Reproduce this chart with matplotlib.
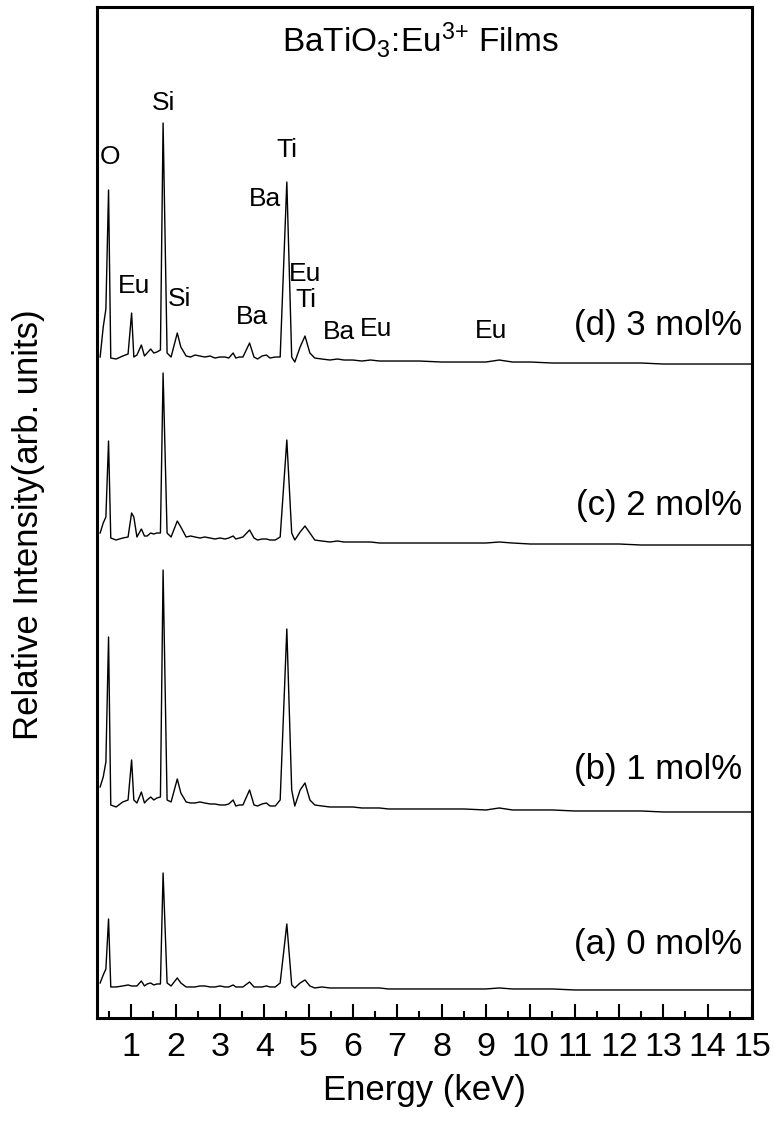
import matplotlib
matplotlib.use("Agg")
import matplotlib.pyplot as plt
from matplotlib.ticker import MultipleLocator

plt.rcParams['font.family'] = ['Liberation Sans', 'DejaVu Sans']
plt.rcParams['mathtext.fontset'] = 'custom'
plt.rcParams['mathtext.rm'] = 'Liberation Sans'
plt.rcParams['mathtext.default'] = 'regular'

# energy grid (keV) shared by the four spectra
energy = [0.30, 0.37, 0.43, 0.49, 0.54, 0.66, 0.81, 0.93, 1.01, 1.06,
          1.13, 1.23, 1.30, 1.36, 1.44, 1.51, 1.58, 1.66, 1.72, 1.81,
          1.90, 2.04, 2.12, 2.24, 2.34, 2.44, 2.55, 2.66, 2.78, 2.89,
          3.00, 3.12, 3.20, 3.30, 3.36, 3.44, 3.52, 3.67, 3.77, 3.85,
          3.95, 4.05, 4.13, 4.25, 4.36, 4.51, 4.62, 4.69, 4.81, 4.92,
          5.03, 5.14, 5.30, 5.48, 5.65, 5.80, 6.00, 6.20, 6.40, 6.60,
          6.80, 7.00, 7.50, 8.00, 8.50, 9.00, 9.30, 9.60, 10.0, 10.5,
          11.0, 11.5, 12.0, 12.5, 13.0, 13.5, 14.0, 14.5, 15.0]

# intensities (arb. units)
int_a = [7, 15, 21, 71, 3, 3, 4, 5, 4, 4,
         4, 9, 4, 6, 7, 5, 6, 6, 117, 7,
         4, 12, 7, 3, 3, 3, 4, 4, 3, 3,
         4, 3, 3, 5, 3, 3, 3, 8, 3, 3,
         3, 4, 3, 3, 7, 66, 5, 2, 7, 10,
         4, 2, 3, 2, 2, 2, 2, 2, 2, 2,
         1, 1, 1, 1, 1, 1, 2, 1, 1, 1,
         0, 0, 0, 0, 0, 0, 0, 0, 0]
int_b = [25, 35, 50, 175, 7, 5, 10, 12, 52, 12,
         9, 20, 9, 12, 15, 12, 14, 15, 242, 12,
         10, 33, 19, 10, 9, 9, 10, 9, 8, 8,
         7, 7, 8, 12, 6, 7, 7, 22, 7, 6,
         8, 9, 6, 6, 12, 183, 22, 6, 22, 29,
         12, 7, 6, 5, 5, 5, 5, 4, 4, 4,
         3, 3, 3, 3, 3, 2, 4, 2, 2, 2,
         1, 1, 1, 1, 0, 0, 0, 0, 0]
int_c = [12, 22, 28, 104, 7, 5, 7, 8, 32, 28,
         8, 16, 9, 9, 12, 11, 12, 12, 172, 12,
         8, 24, 18, 8, 9, 8, 7, 8, 7, 6,
         7, 6, 7, 9, 6, 7, 8, 15, 7, 5,
         6, 6, 5, 5, 8, 105, 12, 5, 13, 19,
         12, 5, 4, 3, 4, 3, 3, 3, 3, 2,
         2, 2, 2, 2, 2, 2, 3, 2, 1, 1,
         1, 1, 1, 0, 0, 0, 0, 0, 0]
int_d = [7, 37, 55, 174, 6, 5, 8, 10, 51, 7,
         9, 19, 8, 11, 15, 11, 12, 14, 241, 11,
         7, 31, 17, 8, 7, 9, 8, 7, 8, 6,
         7, 7, 6, 11, 6, 7, 7, 21, 7, 5,
         8, 9, 6, 7, 7, 182, 7, 2, 17, 28,
         11, 6, 5, 4, 5, 4, 4, 3, 4, 3,
         3, 3, 3, 2, 2, 2, 4, 2, 2, 1,
         1, 1, 1, 1, 0, 0, 0, 0, 0]

spectra = [int_a, int_b, int_c, int_d]
sample_labels = ['(a) 0 mol%', '(b) 1 mol%', '(c) 2 mol%', '(d) 3 mol%']
offsets = [28, 206, 473, 654]
label_y = [73, 248, 513, 693]

# element labels on the top spectrum
peak_names = ['O', 'Si', 'Ti', 'Ba', 'Eu', 'Si', 'Ba', 'Eu', 'Ti', 'Ba', 'Eu', 'Eu']
peak_x = [0.52, 1.72, 4.51, 4.02, 1.06, 2.10, 3.72, 4.92, 4.94, 5.69, 6.52, 9.11]
peak_y = [861, 915, 868, 819, 732, 719, 701, 744, 718, 686, 689, 687]

fig = plt.figure(figsize=(7.78, 11.36), dpi=100)
ax = fig.add_axes([0.1247, 0.1039, 0.8419, 0.8899])

for spec, off in zip(spectra, offsets):
    ax.plot(energy, [v + off for v in spec], color='black', lw=1.0)

for lab, y in zip(sample_labels, label_y):
    ax.text(14.77, y, lab, fontsize=25, ha='right', va='center')

for name, x, y in zip(peak_names, peak_x, peak_y):
    ax.text(x, y, name, fontsize=19, ha='center', va='center')

ax.text(7.51, 978, r'BaTiO$_3$:Eu$^{3{+}}$ Films', fontsize=24, ha='center', va='center')

ax.set_xlim(0.23, 15)
ax.set_ylim(0, 1011)
ax.xaxis.set_major_locator(MultipleLocator(1))
ax.xaxis.set_minor_locator(MultipleLocator(0.5))
ax.set_yticks([])
ax.tick_params(axis='x', which='major', direction='in', length=10, width=1.5,
               labelsize=24.5, pad=10)
ax.tick_params(axis='x', which='minor', direction='in', length=5, width=1.5)
for s in ax.spines.values():
    s.set_linewidth(2.2)

ax.set_xlabel('Energy (keV)', fontsize=25, labelpad=8)
ax.set_ylabel('Relative Intensity(arb. units)', fontsize=25)
ax.yaxis.set_label_coords(-0.08, 0.488)

fig.savefig('out.png', dpi=100)
